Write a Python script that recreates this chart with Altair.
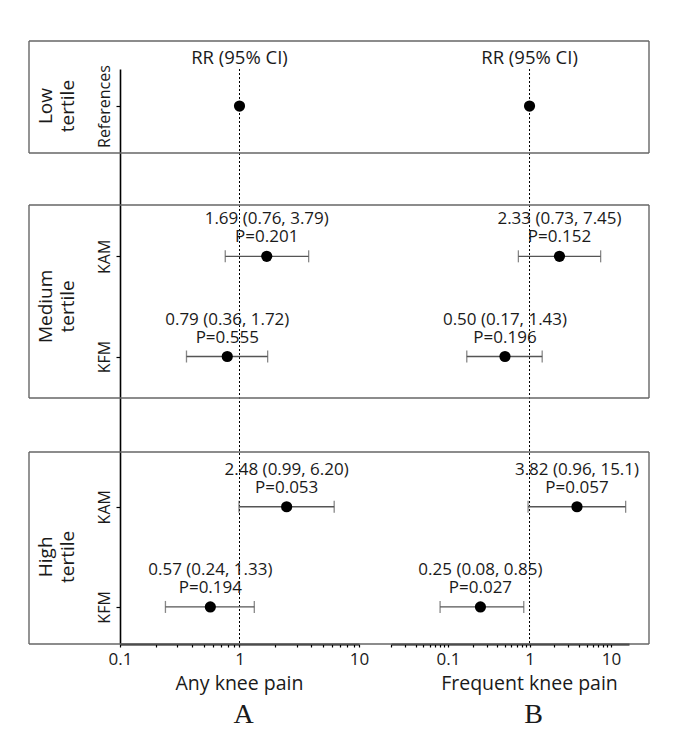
import altair as alt
import pandas as pd

# ---------------- data ----------------
rows = ["Low|References", "Medium|KAM", "Medium|KFM", "High|KAM", "High|KFM"]
row_domain = ["Low|References", "s1", "s2", "Medium|KAM", "Medium|mid", "Medium|KFM",
              "s3", "s4", "High|KAM", "High|mid", "High|KFM"]
group_keys = ["Low|References", "Medium|mid", "High|mid"]
group_labels = ["Low\ntertile", "Medium\ntertile", "High\ntertile"]

any_rr = [1.0, 1.69, 0.79, 2.48, 0.57]
any_lo = [None, 0.76, 0.36, 0.99, 0.24]
any_hi = [None, 3.79, 1.72, 6.20, 1.33]
any_p = [None, "0.201", "0.555", "0.053", "0.194"]

freq_rr = [1.0, 2.33, 0.50, 3.82, 0.25]
freq_lo = [None, 0.73, 0.17, 0.96, 0.08]
freq_hi = [None, 7.45, 1.43, 15.1, 0.85]
freq_p = [None, "0.152", "0.196", "0.057", "0.027"]

any_ticks = [0.1, 0.2, 0.3, 0.4, 0.5, 0.6, 0.7, 0.8, 0.9,
             1, 2, 3, 4, 5, 6, 7, 8, 9, 10]
freq_ticks = [0.02, 0.03, 0.04, 0.05, 0.06, 0.07, 0.08, 0.09,
              0.1, 0.2, 0.3, 0.4, 0.5, 0.6, 0.7, 0.8, 0.9,
              1, 2, 3, 4, 5, 6, 7, 8, 9, 10]


def fmt(v):
    return f"{v:.2f}" if v < 10 else f"{v:.1f}"


def make_df(rr, lo, hi, p):
    recs = []
    for r, a, l, h, pp in zip(rows, rr, lo, hi, p):
        rec = {"row": r, "rr": a, "lo": l, "hi": h}
        if l is not None:
            rec["lab"] = f"{fmt(a)} ({fmt(l)}, {fmt(h)})\nP={pp}"
        else:
            rec["lab"] = ""
        recs.append(rec)
    return pd.DataFrame(recs)


any_df = make_df(any_rr, any_lo, any_hi, any_p)
freq_df = make_df(freq_rr, freq_lo, freq_hi, freq_p)

# ---------------- styling ----------------
H = 575
FONT = "Open Sans"
TXT = "#1a1a1a"
BOX = "#666666"
ERR = "#555555"

# box extents (pixels, relative to plot top)
box_y = [(-28, 84), (136, 329), (383, 575)]

one = pd.DataFrame({"k": [0]})


def y_enc(show_axis):
    scale = alt.Scale(type="point", domain=row_domain, padding=0.74)
    if show_axis:
        axis = alt.Axis(values=rows, labelExpr="split(datum.value, '|')[1]",
                        title=None, labelAngle=270, labelFontSize=16, labelFont=FONT,
                        labelColor=TXT, domainColor="black", domainWidth=1.6,
                        tickColor="black", tickSize=4, tickWidth=1.2, labelPadding=4)
    else:
        axis = None
    return alt.Y("row:N", scale=scale, axis=axis)


def panel(df, domain, ticks, width, title, letter, box_x0, box_x1, left_edge, right_edge, show_y):
    xs = alt.Scale(type="log", domain=domain, nice=False)
    xaxis = alt.Axis(values=ticks, title=None,
                     labelExpr="indexof([0.1, 1, 10], datum.value) >= 0 ? datum.label : ''",
                     labelFlush=False, labelOverlap=False, labelFontSize=17, labelFont=FONT,
                     labelColor=TXT, domainColor="black", domainWidth=2, tickColor="black",
                     tickSize=3, tickWidth=1.2, grid=False, labelPadding=4)
    base = alt.Chart(df)
    y = y_enc(show_y)
    valid = base.transform_filter("isValid(datum.lo)")

    layers = []
    ref = alt.Chart(one).mark_rule(color="black", strokeWidth=1, strokeDash=[2, 2]).encode(
        x=alt.datum(1, scale=xs, axis=xaxis, type="quantitative"))
    layers.append(ref)
    # boxes
    for (y0, y1) in box_y:
        for yy in (y0, y1):
            layers.append(alt.Chart(one).mark_rule(color=BOX, strokeWidth=1.4).encode(
                x=alt.value(box_x0), x2=alt.value(box_x1), y=alt.value(yy)))
        if left_edge:
            layers.append(alt.Chart(one).mark_rule(color=BOX, strokeWidth=1.4).encode(
                x=alt.value(box_x0), y=alt.value(y0), y2=alt.value(y1)))
        if right_edge:
            layers.append(alt.Chart(one).mark_rule(color=BOX, strokeWidth=1.4).encode(
                x=alt.value(box_x1), y=alt.value(y0), y2=alt.value(y1)))

    err = valid.mark_rule(color=ERR, strokeWidth=1.3).encode(
        x=alt.X("lo:Q", scale=xs, axis=xaxis), x2="hi:Q", y=y)
    cap_lo = valid.mark_tick(color=ERR, size=12, thickness=1.3, orient="vertical").encode(
        x=alt.X("lo:Q", scale=xs), y=y)
    cap_hi = valid.mark_tick(color=ERR, size=12, thickness=1.3, orient="vertical").encode(
        x=alt.X("hi:Q", scale=xs), y=y)
    pts = base.mark_circle(size=125, color="black", opacity=1).encode(
        x=alt.X("rr:Q", scale=xs), y=y)
    txt = valid.mark_text(font=FONT, fontSize=17, color=TXT, dy=-37, baseline="middle",
                          lineBreak="\n", lineHeight=18).encode(
        x=alt.X("rr:Q", scale=xs), y=y, text="lab:N")
    layers += [err, cap_lo, cap_hi, pts, txt]

    hdr = alt.Chart(one).mark_text(font=FONT, fontSize=18.5, color=TXT, baseline="middle").encode(
        x=alt.datum(1, scale=xs, type="quantitative"), y=alt.value(-11), text=alt.value("RR (95% CI)"))
    ttl = alt.Chart(one).mark_text(font=FONT, fontSize=19.5, color=TXT, baseline="middle").encode(
        x=alt.datum(1, scale=xs, type="quantitative"), y=alt.value(H + 40), text=alt.value(title))
    let = alt.Chart(one).mark_text(font="Liberation Serif", fontSize=28, color=TXT,
                                   baseline="middle", dx=4).encode(
        x=alt.datum(1, scale=xs, type="quantitative"), y=alt.value(H + 71), text=alt.value(letter))
    layers += [hdr, ttl, let]

    if show_y:
        gdf = pd.DataFrame({"row": group_keys, "lab": group_labels})
        glab = alt.Chart(gdf).mark_text(font=FONT, fontSize=19, color=TXT, angle=270,
                                        align="center", baseline="middle", lineBreak="\n",
                                        lineHeight=22).encode(
            x=alt.value(-74), y=y, text="lab:N")
        layers.append(glab)

    return alt.layer(*layers).properties(width=width, height=H)


pA = panel(any_df, [0.1, 10], any_ticks, 239, "Any knee pain", "A",
           -91, 255, True, False, True)
pB = panel(freq_df, [0.02, 16.6], freq_ticks, 238, "Frequent knee pain", "B",
           -16, 258, False, True, False)

chart = alt.hconcat(pA, pB, spacing=32, bounds="flush").properties(
    padding={"left": 20, "top": 32, "right": 5, "bottom": 5}
).resolve_scale(x="independent").configure(font=FONT).configure_view(stroke=None)

chart.save("out.html", embed_options={"renderer": "svg", "actions": False})
